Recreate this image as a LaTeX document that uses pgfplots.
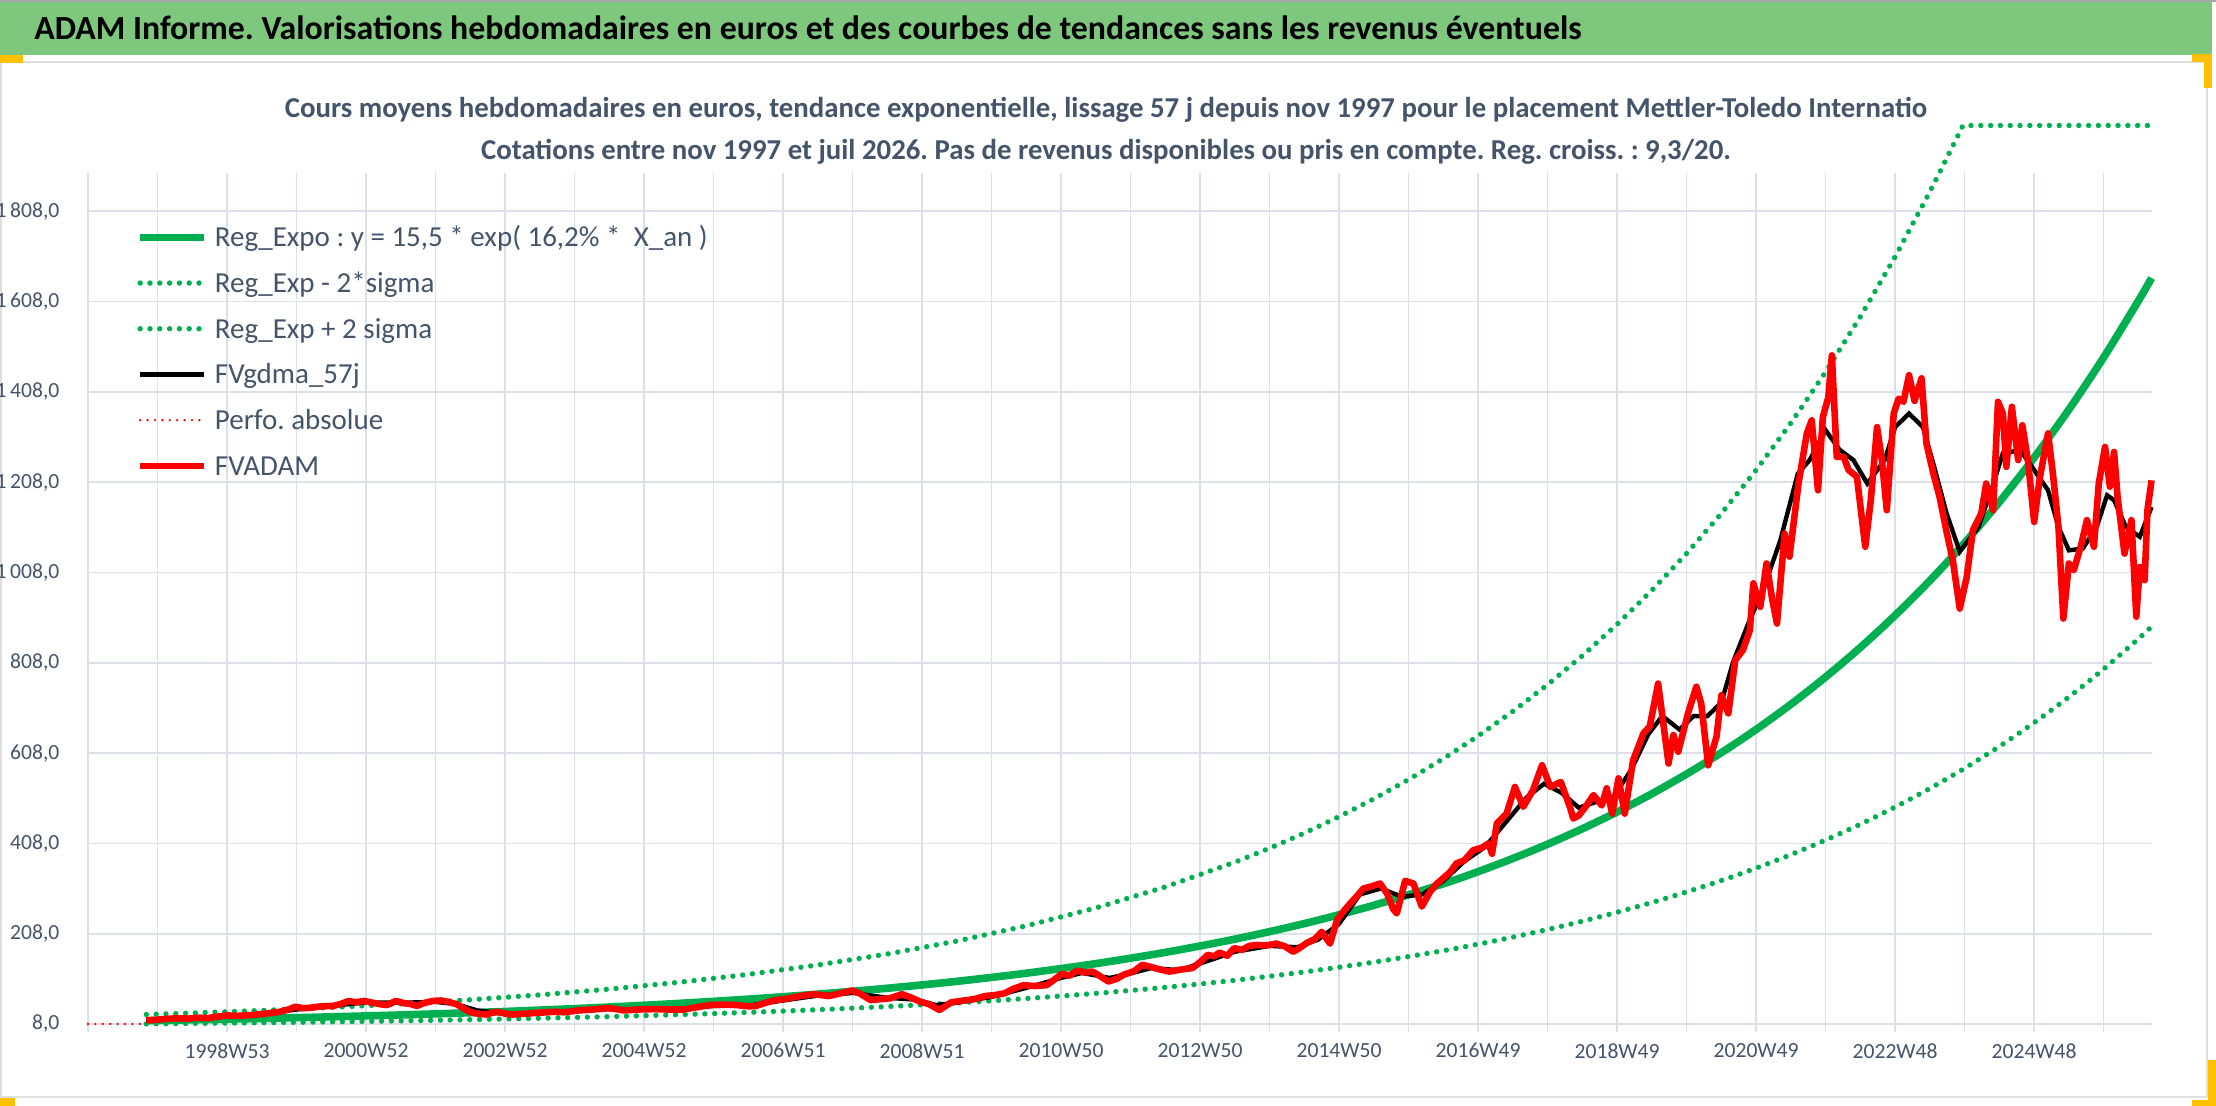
\documentclass[border=0pt]{standalone}
\usepackage{fontspec}
\setmainfont{Carlito}
\usepackage{pgfplots}
\pgfplotsset{compat=1.18}
\definecolor{bannergreen}{RGB}{126,200,126}
\definecolor{txtcol}{RGB}{68,84,106}
\definecolor{gridcol}{RGB}{220,224,232}
\definecolor{xlgreen}{RGB}{0,176,80}
\definecolor{xlred}{RGB}{255,0,0}
\definecolor{xlgold}{RGB}{255,192,0}
\begin{document}
\frenchspacing
\begin{tikzpicture}[x=1pt,y=1pt]
\useasboundingbox (0,0) rectangle (1108,553);
% banner and frame
\fill[white] (0,0) rectangle (1108,553);
\fill[bannergreen] (0,525.5) rectangle (1106,552);
\draw[gray!70,line width=1pt] (0,552.6) -- (1108,552.6);
\draw[gray!25,line width=1pt] (0,522) -- (1104,522);
\draw[gray!25,line width=1pt] (0.5,0) -- (0.5,525);
\draw[gray!25,line width=1pt] (1103.5,4) -- (1103.5,522);
\draw[gray!25,line width=1pt] (0,4.5) -- (1104,4.5);
\fill[xlgold] (0,521.5) rectangle (11.5,525.5);
\fill[xlgold] (1096,522) rectangle (1106,526);
\fill[xlgold] (1102,509) rectangle (1106,526);
\fill[xlgold] (0,0) rectangle (7.5,4);
\fill[xlgold] (1104,0) rectangle (1108,23);
\fill[xlgold] (1096,0) rectangle (1108,3);
\node[anchor=base west,inner sep=0pt,font=\fontsize{16.9}{20}\selectfont\bfseries] at (17,533.4)
 {ADAM Informe. Valorisations hebdomadaires en euros et des courbes de tendances sans les revenus éventuels};
\node[anchor=base,inner sep=0pt,text=txtcol,font=\fontsize{14.4}{18}\selectfont\bfseries] at (553,494)
 {Cours moyens hebdomadaires en euros, tendance exponentielle, lissage 57 j depuis nov 1997 pour le placement Mettler-Toledo Internatio};
\node[anchor=base,inner sep=0pt,text=txtcol,font=\fontsize{14.4}{18}\selectfont\bfseries] at (553,473)
 {Cotations entre nov 1997 et juil 2026. Pas de revenus disponibles ou pris en compte. Reg. croiss. : 9,3/20.};
\begin{axis}[
 at={(44pt,41pt)}, anchor=south west, scale only axis,
 width=1031.8pt, height=425.5pt,
 xmin=1997, xmax=2026.69, ymin=8, ymax=1892.8,
 clip=false,
 axis line style={draw=none},
 xtick={1997,1998,1999,2000,2001,2002,2003,2004,2005,2006,2007,2008,2009,2010,2011,2012,2013,2014,2015,2016,2017,2018,2019,2020,2021,2022,2023,2024,2025,2026},
 xticklabels={{},{},1998W53,{},2000W52,{},2002W52,{},2004W52,{},2006W51,{},2008W51,{},2010W50,{},2012W50,{},2014W50,{},2016W49,{},2018W49,{},2020W49,{},2022W48,{},2024W48,{}},
 ytick={8,208,408,608,808,1008,1208,1408,1608,1808},
 yticklabels={{8,0},{208,0},{408,0},{608,0},{808,0},{1\,008,0},{1\,208,0},{1\,408,0},{1\,608,0},{1\,808,0}},
 /pgf/number format/assume math mode=true,
 grid=major, grid style={gridcol,line width=0.85pt},
 tick align=outside, major tick length=4pt,
 xtick pos=bottom, ytick pos=left,
 xtick style={draw=gridcol,line width=0.85pt},
 ytick style={draw=none},
 ticklabel style={font=\fontsize{10.8}{12}\selectfont, text=txtcol},
 yticklabel style={anchor=east, inner sep=0pt, xshift=-10.1pt},
 xticklabel style={anchor=north, inner sep=0pt, yshift=-5.5pt},
 legend cell align=left,
 legend image code/.code={\draw[#1] (0pt,0pt) -- (32pt,0pt); \path (35.5pt,0pt);},
 legend style={at={(0.02326,0.9358)}, anchor=north west, draw=none, fill=none,
   inner sep=0pt, row sep=13.51pt,
   font=\fontsize{14.5}{17}\selectfont, text=txtcol,
   nodes={inner sep=0pt, text height=9.34pt, text depth=0pt}},
]
% Reg_Expo
\addplot[xlgreen, line width=3.8pt, smooth] coordinates {
(1997.84,15.50)(1998.5,17.25)(1999.5,20.28)(2000.5,23.85)(2001.5,28.05)(2002.5,32.97)
(2003.5,38.77)(2004.5,45.59)(2005.5,53.61)(2006.5,63.04)(2007.5,74.13)(2008.5,87.15)
(2009.5,102.48)(2010.5,120.51)(2011.5,141.71)(2012.5,166.62)(2013.5,195.92)(2014.5,230.39)
(2015.5,270.92)(2016.5,318.54)(2017.0,345.4)(2017.5,374.55)(2018.0,406.2)(2018.5,440.41)
(2019.0,477.6)(2019.5,517.87)(2020.0,561.6)(2020.5,608.93)(2021.0,660.3)(2021.5,716.06)
(2022.0,776.5)(2022.5,841.96)(2023.0,913.0)(2023.5,990.04)(2024.0,1073.6)(2024.5,1164.17)
(2025.0,1262.4)(2025.5,1368.84)(2026.0,1484.3)(2026.5,1609.66)(2026.69,1660.0)};
\addlegendentry{Reg\_Expo : y = 15,5 * exp( 16,2\% *\ \ X\_an )}
% Reg_Exp - 2 sigma
\addplot[xlgreen, line width=2.7pt, line cap=round, dash pattern=on 0pt off 4.9pt, smooth] coordinates {
(1997.84,8.29)(1998.5,9.23)(1999.5,10.85)(2000.5,12.76)(2001.5,15.01)(2002.5,17.64)
(2003.5,20.74)(2004.5,24.39)(2005.5,28.68)(2006.5,33.73)(2007.5,39.66)(2008.5,46.63)
(2009.5,54.83)(2010.5,64.47)(2011.5,75.82)(2012.5,89.14)(2013.5,104.82)(2014.5,123.26)
(2015.5,144.94)(2016.5,170.42)(2017.0,184.8)(2017.5,200.38)(2018.0,217.3)(2018.5,235.62)
(2019.0,255.5)(2019.5,277.06)(2020.0,300.5)(2020.5,325.78)(2021.0,353.3)(2021.5,383.09)
(2022.0,415.4)(2022.5,450.45)(2023.0,488.5)(2023.5,529.67)(2024.0,574.4)(2024.5,622.83)
(2025.0,675.4)(2025.5,732.33)(2026.0,794.1)(2026.5,861.17)(2026.69,888.1)};
\addlegendentry{Reg\_Exp - 2*sigma}
% Reg_Exp + 2 sigma
\addplot[xlgreen, line width=2.7pt, line cap=round, dash pattern=on 0pt off 4.9pt] coordinates {
(1997.84,28.99)(1998.5,32.26)(1999.5,37.92)(2000.5,44.60)(2001.5,52.45)(2002.5,61.65)
(2003.5,72.50)(2004.5,85.25)(2005.5,100.25)(2006.5,117.88)(2007.5,138.62)(2008.5,162.97)
(2009.5,191.64)(2010.5,225.35)(2011.5,265.00)(2012.5,311.58)(2013.5,366.37)(2014.0,397.3)
(2014.5,430.8)(2015.0,467.2)(2015.5,506.6)(2016.0,549.4)(2016.5,595.7)(2017.0,645.9)
(2017.5,700.4)(2018.0,759.6)(2018.5,823.6)(2019.0,893.1)(2019.5,968.4)(2020.0,1050.2)
(2020.5,1138.7)(2021.0,1234.8)(2021.5,1339.0)(2022.0,1452.1)(2022.5,1574.5)(2023.0,1707.3)
(2023.5,1851.4)(2023.75,1927.8)(2023.976,1998)(2026.69,1998)};
\addlegendentry{Reg\_Exp + 2 sigma}
% FVgdma_57j
\addplot[black, line width=2.2pt] coordinates {
(1997.84,16)(1998.5,20)(1999.0,25)(1999.5,30)(2000.0,40)(2000.5,48)(2001.0,56)(2001.5,55)
(2002.0,57)(2002.3,52)(2002.6,38)(2003.0,31)(2003.5,32)(2004.0,36)(2004.5,41)(2005.0,40)
(2005.5,41)(2006.0,48)(2006.5,49)(2007.0,60)(2007.5,71)(2008.0,77)(2008.5,66)(2008.9,62)
(2009.2,50)(2009.5,55)(2010.0,68)(2010.5,88)(2011.0,110)(2011.3,121)(2011.7,110)(2012.0,120)
(2012.3,132)(2012.7,127)(2013.0,142)(2013.5,168)(2014.0,181)(2014.4,178)(2014.7,195)(2015.0,230)
(2015.3,295)(2015.6,308)(2015.9,290)(2016.2,295)(2016.5,325)(2016.8,368)(2017.1,400)(2017.4,455)
(2017.7,510)(2017.95,540)(2018.2,520)(2018.45,487)(2018.7,500)(2018.95,512)(2019.2,570)(2019.45,650)
(2019.65,690)(2019.9,660)(2020.1,690)(2020.3,690)(2020.5,720)(2020.67,810)(2020.9,900)(2021.1,969)
(2021.35,1080)(2021.6,1227)(2021.77,1257)(2022.0,1323)(2022.2,1280)(2022.4,1257)(2022.6,1205)
(2022.85,1257)(2023.0,1330)(2023.2,1360)(2023.4,1330)(2023.55,1249)(2023.74,1139)(2023.93,1054)
(2024.2,1109)(2024.4,1198)(2024.55,1272)(2024.8,1279)(2025.0,1235)(2025.2,1190)(2025.35,1109)
(2025.5,1057)(2025.7,1061)(2025.9,1109)(2026.05,1179)(2026.15,1168)(2026.32,1109)(2026.52,1087)
(2026.69,1153)};
\addlegendentry{FVgdma\_57j}
% Perfo. absolue
\addplot[xlred, line width=1.3pt, line cap=round, dash pattern=on 0pt off 3.7pt] coordinates {
(1997.0,8)(1997.84,8)};
\addlegendentry{Perfo. absolue}
% FVADAM
\addplot[xlred, line width=3.3pt, line join=round] coordinates {
(1997.84,16)(1997.95,17)(1998.1,19)(1998.27,20.6)(1998.45,20)(1998.6,22)(1998.72,21)(1998.85,24)
(1999.0,27)(1999.15,26)(1999.37,28)(1999.55,31)(1999.76,35)(1999.88,40)(1999.98,46)(2000.1,43)
(2000.2,44)(2000.35,47)(2000.53,48)(2000.65,53)(2000.75,59)(2000.85,56)(2000.97,59)(2001.1,55)
(2001.2,52)(2001.3,50)(2001.43,59)(2001.55,54)(2001.65,52)(2001.73,48)(2001.85,55)(2001.96,59)
(2002.08,60)(2002.18,57)(2002.3,52)(2002.4,43)(2002.48,36)(2002.56,32)(2002.65,30)(2002.73,29)
(2002.82,33)(2002.89,35)(2003.0,31)(2003.11,29)(2003.3,31)(2003.5,33)(2003.7,35)(2003.85,34)
(2004.05,38)(2004.25,40)(2004.49,43)(2004.6,41)(2004.71,38)(2004.9,40)(2005.15,41)(2005.35,40)
(2005.56,40)(2005.75,45)(2005.95,50)(2006.15,51)(2006.33,50)(2006.5,47)(2006.61,48)(2006.75,55)
(2006.89,61)(2007.05,64)(2007.25,70)(2007.44,74)(2007.55,72)(2007.66,70)(2007.8,75)(2007.99,82)
(2008.1,76)(2008.26,61)(2008.4,63)(2008.54,65)(2008.71,74)(2008.85,66)(2008.98,57)(2009.1,52)
(2009.25,39)(2009.42,56)(2009.6,60)(2009.75,63)(2009.91,70)(2010.05,72)(2010.19,76)(2010.3,85)
(2010.46,94)(2010.62,92)(2010.79,94)(2010.9,106)(2011.01,119)(2011.12,115)(2011.23,126)(2011.35,122)
(2011.45,124)(2011.55,115)(2011.68,102)(2011.8,108)(2011.9,117)(2012.05,125)(2012.17,139)(2012.28,135)
(2012.39,130)(2012.56,124)(2012.7,128)(2012.89,132)(2013.0,145)(2013.11,161)(2013.2,158)(2013.28,166)
(2013.39,159)(2013.49,176)(2013.6,172)(2013.71,181)(2013.82,183)(2013.95,182)(2014.1,186)(2014.22,180)
(2014.34,168)(2014.45,178)(2014.54,188)(2014.65,196)(2014.75,212)(2014.87,186)(2014.97,238)(2015.05,255)
(2015.16,275)(2015.25,290)(2015.35,308)(2015.45,312)(2015.59,319)(2015.69,297)(2015.78,262)(2015.83,253)
(2015.95,325)(2016.07,319)(2016.19,268)(2016.31,301)(2016.4,318)(2016.5,331)(2016.6,345)(2016.69,364)
(2016.8,370)(2016.93,393)(2017.05,398)(2017.15,408)(2017.2,385)(2017.27,452)(2017.41,474)(2017.53,533)
(2017.65,489)(2017.79,526)(2017.92,581)(2018.04,533)(2018.19,544)(2018.32,489)(2018.37,463)(2018.45,470)
(2018.56,492)(2018.66,515)(2018.78,492)(2018.85,530)(2018.93,474)(2019.02,552)(2019.11,474)(2019.23,592)
(2019.38,652)(2019.47,667)(2019.59,762)(2019.74,585)(2019.81,648)(2019.88,611)(2020.02,696)(2020.14,755)
(2020.21,718)(2020.31,581)(2020.43,644)(2020.5,736)(2020.6,696)(2020.7,814)(2020.81,836)(2020.91,880)
(2020.96,984)(2021.06,932)(2021.15,1028)(2021.23,950)(2021.3,895)(2021.41,1094)(2021.48,1043)(2021.61,1205)
(2021.73,1316)(2021.8,1345)(2021.89,1190)(2021.96,1352)(2022.04,1397)(2022.09,1489)(2022.16,1264)(2022.26,1264)
(2022.33,1235)(2022.45,1220)(2022.57,1065)(2022.65,1168)(2022.74,1330)(2022.81,1257)(2022.88,1146)(2022.98,1360)
(2023.05,1393)(2023.12,1386)(2023.2,1445)(2023.28,1388)(2023.38,1438)(2023.45,1294)(2023.55,1227)(2023.64,1175)
(2023.74,1098)(2023.83,1035)(2023.93,928)(2024.03,998)(2024.12,1102)(2024.24,1139)(2024.31,1205)(2024.41,1146)
(2024.48,1386)(2024.55,1360)(2024.6,1242)(2024.68,1375)(2024.77,1257)(2024.83,1334)(2024.91,1257)(2025.0,1120)
(2025.08,1216)(2025.2,1316)(2025.27,1227)(2025.35,1109)(2025.42,906)(2025.5,1028)(2025.57,1013)(2025.67,1065)
(2025.76,1124)(2025.86,1065)(2025.93,1205)(2026.02,1286)(2026.09,1198)(2026.15,1275)(2026.2,1176)(2026.3,1050)
(2026.4,1124)(2026.47,910)(2026.52,1020)(2026.59,991)(2026.63,1146)(2026.69,1212)};
\addlegendentry{FVADAM}
\end{axis}
\end{tikzpicture}
\end{document}
